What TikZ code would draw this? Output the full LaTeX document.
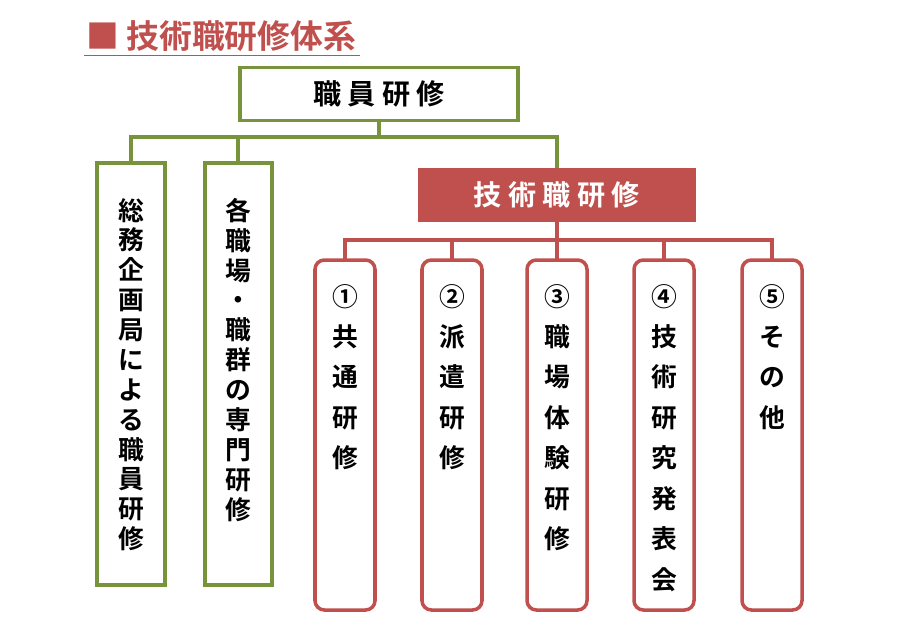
\documentclass[tikz,border=0pt]{standalone}
\usepackage{fontspec}
\setmainfont{Noto Sans CJK JP}[BoldFont={Noto Sans CJK JP Bold}]
\definecolor{grn}{RGB}{119,147,60}
\definecolor{rd}{RGB}{192,80,77}
\tikzset{
  gbox/.style={draw=grn,line width=3pt,fill=white},
  rbox/.style={draw=rd,line width=3pt,fill=white,rounded corners=8pt},
  gline/.style={draw=grn,line width=3pt},
  rline/.style={draw=rd,line width=3pt},
  vtxt/.style={anchor=north,align=center,font=\bfseries\fontsize{22}{25.5}\selectfont},
  vtxtw/.style={anchor=north,align=center,font=\bfseries\fontsize{22}{34.5}\selectfont}
}
\begin{document}
\begin{tikzpicture}[x=0.03cm,y=-0.03cm]
  \useasboundingbox (0,0) rectangle (900,636);
  % title
  \node[text=rd,anchor=west,font=\bfseries\fontsize{28}{32}\selectfont] (title) at (82,36) {■\ 技術職研修体系};
  \draw[rd,line width=1.2pt] (title.south west)++(2,0) coordinate (ul) -- (ul -| title.south east);
  % top
  \node[gbox,minimum width=278*0.03cm,minimum height=53*0.03cm,font=\bfseries\fontsize{24}{28}\selectfont] (staff) at (379,94) {職\ 員\ 研\ 修};
  \node[draw=rd,line width=3pt,fill=rd,text=white,minimum width=275*0.03cm,minimum height=50*0.03cm,font=\bfseries\fontsize{24}{28}\selectfont] (tech) at (557,195) {技\ 術\ 職\ 研\ 修};
  % green boxes
  \draw[gbox] (97,163) rectangle (165,585);
  \draw[gbox] (205,163) rectangle (272,585);
  \node[vtxt] (g1) at (131,194) {総\\務\\企\\画\\局\\に\\よ\\る\\職\\員\\研\\修};
  \node[vtxt] (g2) at (238,194) {各\\職\\場\\・\\職\\群\\の\\専\\門\\研\\修};
  \draw[gline] (staff.south) -- (379,137);
  \draw[gline] (131,163) -- (131,137) -- (557,137) -- (tech.north);
  \draw[gline] (238,137) -- (238,163);
  % red boxes
  \foreach \x in {345,452,557,664,772} {
    \draw[rbox] (\x-30,260) rectangle (\x+30,610);
  }
  \draw[rline] (tech.south) -- (557,240);
  \draw[rline] (345,260) -- (345,240) -- (772,240) -- (772,260);
  \foreach \x in {452,557,664} { \draw[rline] (\x,240) -- (\x,260); }
  \node[vtxtw] (r1) at (345,280) {①\\共\\通\\研\\修};
  \node[vtxtw] (r2) at (452,280) {②\\派\\遣\\研\\修};
  \node[vtxtw] (r3) at (557,280) {③\\職\\場\\体\\験\\研\\修};
  \node[vtxtw] (r4) at (664,280) {④\\技\\術\\研\\究\\発\\表\\会};
  \node[vtxtw] (r5) at (772,280) {⑤\\そ\\の\\他};
\end{tikzpicture}
\end{document}
